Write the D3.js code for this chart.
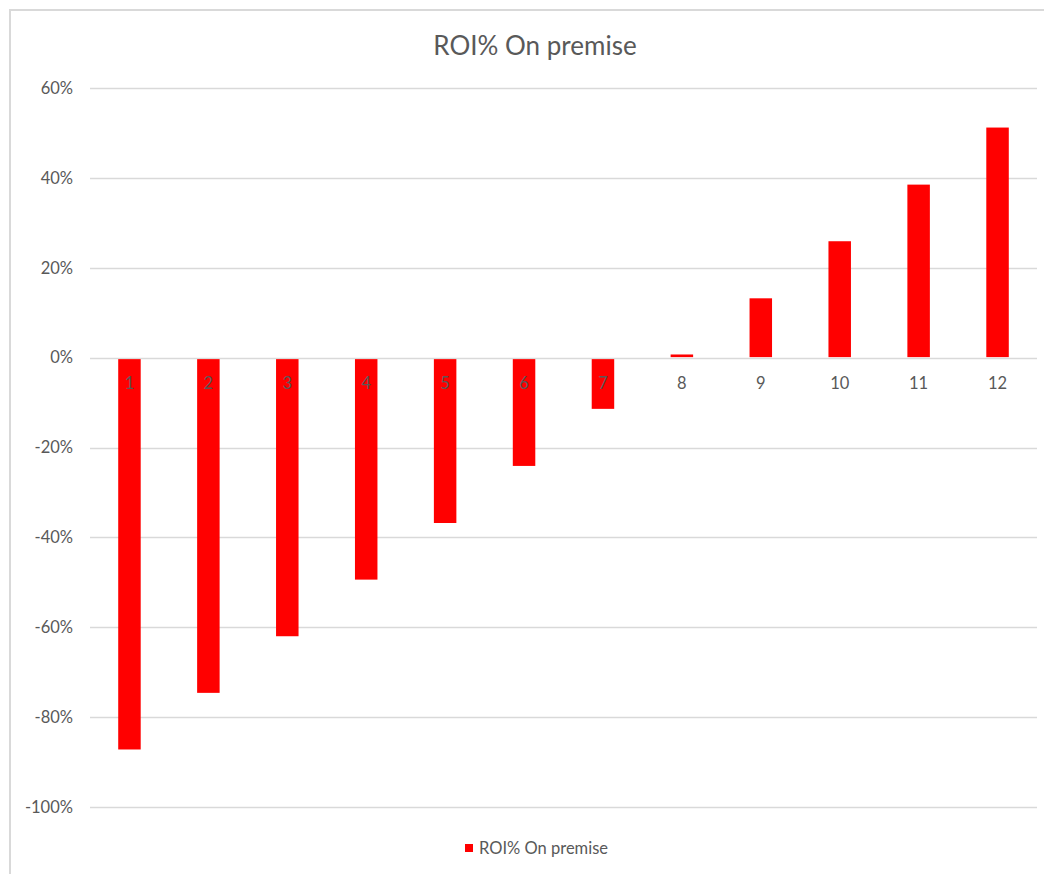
<!DOCTYPE html>
<html lang="en">
<head>
<meta charset="UTF-8">
<title>ROI% On premise</title>
<script src="https://d3js.org/d3.v7.min.js"></script>
<style>
  body { margin: 0; background: #fff; }
  text { font-family: Lato, "Open Sans", sans-serif; fill: #595959; }
  .grid line { stroke: #d9d9d9; stroke-width: 1.5px; }
</style>
</head>
<body>
<div id="chart"></div>
<script>
  // data
  const months = ["1","2","3","4","5","6","7","8","9","10","11","12"];
  const roi = [-0.872, -0.746, -0.62, -0.494, -0.368, -0.241, -0.114, 0.007, 0.132, 0.259, 0.385, 0.512];
  const yTicks = [0.6, 0.4, 0.2, 0, -0.2, -0.4, -0.6, -0.8, -1.0];
  const seriesName = "ROI% On premise";

  const W = 1044, H = 874;
  const plot = { left: 90, right: 1037, top: 88, bottom: 807 };

  const svg = d3.select("#chart").append("svg")
    .attr("width", W).attr("height", H);

  // chart border
  svg.append("rect")
    .attr("x", 10).attr("y", 10)
    .attr("width", W + 20).attr("height", H + 20)
    .attr("fill", "none").attr("stroke", "#d9d9d9").attr("stroke-width", 2);

  const x = d3.scaleBand().domain(months).range([plot.left, plot.right]).paddingInner(0.715).paddingOuter(0.3575);
  const y = d3.scaleLinear().domain([-1, 0.6]).range([plot.bottom, plot.top]);

  // gridlines
  svg.append("g").attr("class", "grid")
    .selectAll("line").data(yTicks).enter().append("line")
    .attr("x1", plot.left).attr("x2", plot.right)
    .attr("y1", d => Math.round(y(d)) + 0.5).attr("y2", d => Math.round(y(d)) + 0.5);

  // y axis labels (Excel style hyphen minus)
  const pct = d => Math.round(d * 100) + "%";
  svg.append("g").selectAll("text").data(yTicks).enter().append("text")
    .attr("x", 73).attr("y", d => y(d))
    .attr("dy", "0.35em")
    .attr("text-anchor", "end")
    .style("font-size", "16.5px")
    .text(pct);

  // bars
  svg.append("g").selectAll("rect").data(roi).enter().append("rect")
    .attr("x", (d, i) => x(months[i]))
    .attr("width", x.bandwidth())
    .attr("y", d => d >= 0 ? y(d) : y(0) + 1.5)
    .attr("height", d => d >= 0 ? y(0) - y(d) - 0.5 : y(d) - y(0) - 1.5)
    .attr("fill", "#ff0000");

  // category labels
  svg.append("g").selectAll("text").data(months).enter().append("text")
    .attr("x", d => x(d) + x.bandwidth() / 2)
    .attr("y", y(0) + 26)
    .attr("dy", "0.35em")
    .attr("text-anchor", "middle")
    .style("font-size", "16.5px")
    .text(d => d);

  // title
  svg.append("text")
    .attr("x", 535).attr("y", 46)
    .attr("dy", "0.35em")
    .attr("text-anchor", "middle")
    .style("font-size", "26px")
    .text(seriesName);

  // legend
  const lg = svg.append("g").attr("transform", "translate(465,848)");
  lg.append("rect").attr("x", 0).attr("y", -4).attr("width", 8).attr("height", 8).attr("fill", "#ff0000");
  lg.append("text").attr("x", 14).attr("y", 0).attr("dy", "0.35em")
    .style("font-size", "16.5px").text(seriesName);
</script>
</body>
</html>
